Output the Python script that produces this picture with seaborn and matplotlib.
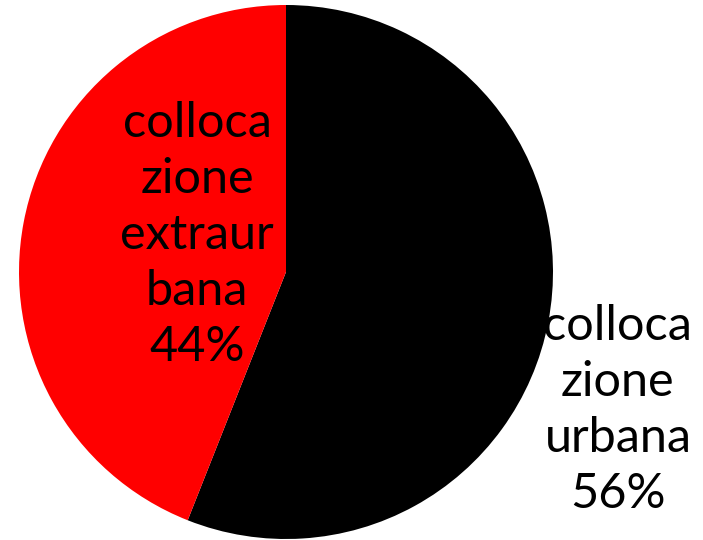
# Pie chart of urban vs extra-urban placement shares

import matplotlib
matplotlib.use("Agg")
import matplotlib.pyplot as plt
import seaborn as sns

categories = ["colloca\nzione\nurbana", "colloca\nzione\nextraur\nbana"]
shares = [56, 44]
slice_colors = ["#000000", "#FF0000"]

sns.set_theme(style="white")
plt.rcParams["font.family"] = ["Lato", "DejaVu Sans"]

fig = plt.figure(figsize=(7.03, 5.40), dpi=100)
ax = fig.add_axes([19 / 703, 1 / 540, 534 / 703, 534 / 540])

labels = [f"{c}\n{s}%" for c, s in zip(categories, shares)]
wedges, texts = ax.pie(
    shares,
    colors=slice_colors,
    startangle=90,
    counterclock=False,
    labels=labels,
    wedgeprops=dict(linewidth=0),
)
ax.set_aspect("equal")
ax.set_xlim(-1, 1)
ax.set_ylim(-1, 1)

# place labels like the original (one outside, one inside)
label_pos = [(1.243, -0.517), (-0.333, 0.139)]
for t, (x, y) in zip(texts, label_pos):
    t.set_position((x, y))
    t.set_ha("center")
    t.set_va("center")
    t.set_fontsize(35)
    t.set_linespacing(1.33)
    t.set_color("black")

fig.savefig("out.png", dpi=100)
